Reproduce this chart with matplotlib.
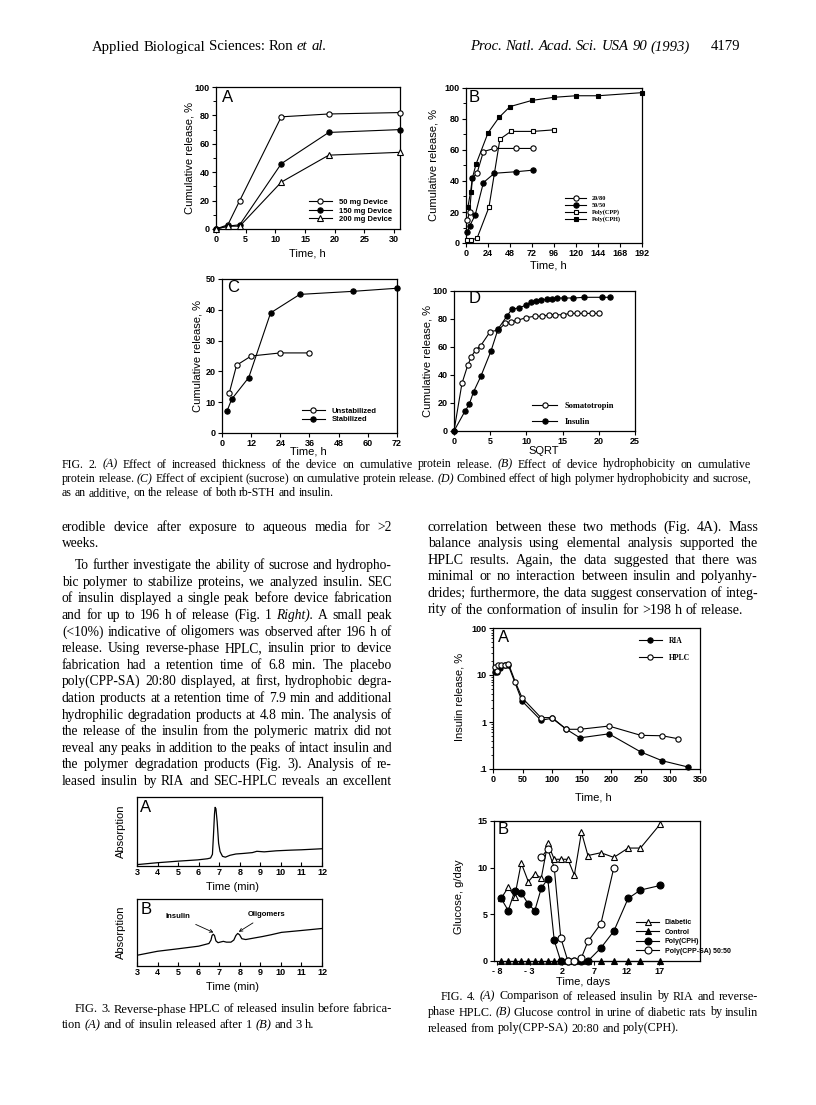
import matplotlib
matplotlib.use('Agg')
import matplotlib.pyplot as plt

W, H = 816, 1105
SANS = 'Liberation Sans'
SERIF = 'Liberation Serif'

# ---------------- Fig. 2A : device thickness
a_time = [0, 2, 4, 11, 19, 31]
a_50mg = [0, 3, 20, 79, 81, 82]
a_150mg = [0, 2, 3, 46, 68, 70]
a_200mg = [0, 2, 2, 33, 52, 54]

# ---------------- Fig. 2B : hydrophobicity
b_2080_t = [1.5, 4, 7, 12, 19, 31, 55, 73]
b_2080 = [15, 20, 42, 45, 59, 61, 61, 61]
b_5050_t = [1.5, 4, 10, 19, 31, 55, 73]
b_5050 = [7, 11, 18, 39, 45, 46, 47]
b_cpp_t = [1.5, 5, 12, 25, 37, 49, 73, 96]
b_cpp = [2, 2, 3, 23, 67, 72, 72, 73]
b_cph_t = [2, 5, 7, 11, 24, 36, 48, 72, 96, 120, 144, 192]
b_cph = [23, 33, 42, 51, 71, 81, 88, 92, 94, 95, 95, 97]

# ---------------- Fig. 2C : sucrose
c_unstab_t = [3, 6, 12, 24, 36]
c_unstab = [13, 22, 25, 26, 26]
c_stab_t = [2, 4, 11, 20, 32, 54, 72]
c_stab = [7, 11, 18, 39, 45, 46, 47]

# ---------------- Fig. 2D : SQRT
d_soma_t = [0, 1.1, 1.9, 2.4, 3.0, 3.7, 5.0, 6.1, 7.1, 7.9, 8.7, 10, 11.2, 12.2, 13.1,
            14, 15, 16, 17, 18, 19, 20]
d_soma = [0, 34, 47, 53, 58, 61, 71, 72, 77, 78, 79, 81, 82, 82, 83,
          83, 83, 84, 84, 84, 84, 84]
d_ins_t = [0, 1.5, 2.1, 2.7, 3.7, 5.1, 6.1, 7.3, 8, 9, 10, 10.6, 11.3, 12, 12.8,
           13.5, 14.2, 15.2, 16.5, 18, 20.5, 21.6]
d_ins = [0, 14, 19, 28, 39, 57, 73, 82, 87, 88, 90, 92, 93, 93.5, 94,
         94, 95, 95, 95, 95.5, 95.5, 95.5]

# ---------------- Fig. 3 : HPLC traces (absorption, % of frame height)
h_a_t = [3.0, 3.97, 4.99, 5.96, 6.43, 6.58, 6.67, 6.72, 6.77, 6.80, 6.84, 6.90, 6.97,
         7.04, 7.16, 7.3, 7.52, 7.81, 8.17, 8.61, 8.83, 9.19, 9.77, 10.5, 11, 12]
h_a = [2, 4.7, 7, 8.9, 10.5, 11.6, 17, 44.6, 75.6, 85, 83, 64, 33,
       21, 14, 12.8, 15.5, 17.4, 18.2, 19.4, 21.3, 20.5, 22, 23, 23.5, 25]
h_b_t = [3, 4, 5, 6, 6.5, 6.6, 6.65, 6.71, 6.77, 6.84, 6.94, 7.09, 7.2, 7.35, 7.57,
         7.71, 7.81, 7.9, 7.99, 8.1, 8.29, 8.65, 9.09, 9.52, 10.03, 11, 12]
h_b = [16, 22, 25.7, 29.6, 33.6, 38.7, 45.5, 47.4, 45.5, 37.5, 34.8, 36, 36.8, 35.6, 35.6,
       38.7, 45.5, 48.6, 46.6, 40.7, 39.5, 41.5, 43.9, 46.6, 50.2, 53, 56]

# ---------------- Fig. 4A : RIA vs HPLC
ria_t = [3, 6, 12, 20, 26, 49, 81, 100, 124, 147, 196, 250, 286, 330]
ria = [11.5, 11.8, 13.9, 16, 16, 2.8, 1.09, 1.2, 0.7, 0.46, 0.56, 0.23, 0.15, 0.11]
hplc_t = [3, 6, 9, 13, 20, 26, 38, 49, 81, 100, 124, 147, 196, 250, 286, 313]
hplc = [15, 12, 16, 16.4, 16, 17.5, 7.0, 3.3, 1.24, 1.24, 0.7, 0.7, 0.82, 0.52, 0.51, 0.44]

# ---------------- Fig. 4B : glucose
g_days = [-7.4, -6.3, -5.3, -4.3, -3.2, -2.2, -1.2, -0.2, 0.8, 1.8, 2.9, 3.9, 5.0, 6.0,
          8.0, 10.0, 12.2, 14.1, 17.2]
g_diabetic = [6.7, 7.9, 6.9, 10.5, 8.5, 9.3, 8.9, 12.6, 10.9, 10.9, 10.9, 9.2, 13.8, 11.3,
              11.6, 11.1, 12.1, 12.1, 14.7]
g_control = [0, 0, 0, 0, 0, 0, 0, 0, 0, 0, 0, 0, 0, 0, 0, 0, 0, 0, 0]
g_cph = [6.7, 5.4, 7.5, 7.3, 6.1, 5.4, 7.8, 8.8, 2.2, 0, 0, 0, 0, 0, 1.4, 3.2, 6.7, 7.6, 8.1]
g_sa_days = [-1.2, -0.2, 0.8, 1.8, 2.9, 3.9, 5.0, 6.0, 8.0, 10.0]
g_sa = [11.1, 12.0, 10.0, 2.5, 0, 0, 0.35, 2.1, 4.0, 10.0]

fig = plt.figure(figsize=(W / 100, H / 100), dpi=100)
renderer = fig.canvas.get_renderer()

TICK = 6.5
LAB = 8


def px_axes(x0, y0, x1, y1):
    ax = fig.add_axes([x0 / W, 1 - y1 / H, (x1 - x0) / W, (y1 - y0) / H])
    for s in ax.spines.values():
        s.set_linewidth(0.9)
    ax.tick_params(length=3, width=0.8, labelsize=TICK, pad=1.5)
    return ax


def ftext(x, y, s, **kw):
    kw.setdefault('family', SANS)
    return fig.text(x / W, 1 - y / H, s, **kw)


def style_ticks(ax):
    for lab in ax.get_xticklabels() + ax.get_yticklabels():
        lab.set_family(SANS)
        lab.set_fontweight('bold')


def line(ax, x, y, marker, filled, ms=3.8, label=None):
    ax.plot(x, y, color='black', lw=0.8, marker=marker, ms=ms, mew=0.8,
            mfc='black' if filled else 'white', mec='black', label=label,
            clip_on=False, zorder=3)


def legend(ax, x, y, size, family, spacing=0.1, hl=3.0):
    ax.legend(loc='upper left', bbox_to_anchor=(x / W, 1 - y / H),
              bbox_transform=fig.transFigure, frameon=False, borderpad=0,
              handlelength=hl, handletextpad=0.9, labelspacing=spacing,
              prop={'family': family, 'size': size, 'weight': 'bold'})


# ======== Fig. 2A
ax = px_axes(216, 87, 400, 229)
line(ax, a_time, a_50mg, 'o', False, label='50 mg Device')
line(ax, a_time, a_150mg, 'o', True, label='150 mg Device')
line(ax, a_time, a_200mg, '^', False, label='200 mg Device')
ax.set_xlim(0, 31)
ax.set_ylim(0, 100)
ax.set_xticks(range(0, 31, 5))
ax.set_yticks(range(0, 101, 20))
ax.set_yticks(range(10, 100, 20), minor=True)
ax.tick_params(which='minor', length=2, width=0.7)
style_ticks(ax)
legend(ax, 305, 195, 5.5, SANS, spacing=0.15)
ftext(228, 98, 'A', fontsize=12, va='center', ha='center')
ftext(189, 158, 'Cumulative release, %', fontsize=LAB, rotation=90, va='center', ha='center')
ftext(307, 253, 'Time, h', fontsize=LAB, va='center', ha='center')

# ======== Fig. 2B
ax = px_axes(466, 88, 642, 243)
line(ax, b_2080_t, b_2080, 'o', False, label='20/80')
line(ax, b_5050_t, b_5050, 'o', True, label='50/50')
line(ax, b_cpp_t, b_cpp, 's', False, ms=3.5, label='Poly(CPP)')
line(ax, b_cph_t, b_cph, 's', True, ms=3.5, label='Poly(CPH)')
ax.set_xlim(0, 192)
ax.set_ylim(0, 100)
ax.set_xticks(range(0, 193, 24))
ax.set_yticks(range(0, 101, 20))
ax.set_yticks(range(10, 100, 20), minor=True)
ax.tick_params(which='minor', length=2, width=0.7)
style_ticks(ax)
legend(ax, 562, 193, 4.5, SERIF, spacing=0.2, hl=3.4)
ftext(474, 97, 'B', fontsize=12, va='center', ha='center')
ftext(434, 165, 'Cumulative release, %', fontsize=LAB, rotation=90, va='center', ha='center')
ftext(548, 266, 'Time, h', fontsize=LAB, va='center', ha='center')

# ======== Fig. 2C
ax = px_axes(222, 279, 397, 433)
line(ax, c_unstab_t, c_unstab, 'o', False, label='Unstabilized')
line(ax, c_stab_t, c_stab, 'o', True, label='Stabilized')
ax.set_xlim(0, 72)
ax.set_ylim(0, 50)
ax.set_xticks(range(0, 73, 12))
ax.set_yticks(range(0, 51, 10))
style_ticks(ax)
legend(ax, 298, 404, 5.5, SANS, spacing=0.1)
ftext(233, 288, 'C', fontsize=12, va='center', ha='center')
ftext(197, 356, 'Cumulative release, %', fontsize=LAB, rotation=90, va='center', ha='center')
ftext(308, 452, 'Time, h', fontsize=LAB, va='center', ha='center')

# ======== Fig. 2D
ax = px_axes(454, 291, 635, 431)
line(ax, d_soma_t, d_soma, 'o', False, label='Somatotropin')
line(ax, d_ins_t, d_ins, 'o', True, label='Insulin')
ax.set_xlim(0, 25)
ax.set_ylim(0, 100)
ax.set_xticks(range(0, 26, 5))
ax.set_yticks(range(0, 101, 20))
style_ticks(ax)
legend(ax, 528, 398, 6, SERIF, spacing=0.9)
ftext(475, 299, 'D', fontsize=12, va='center', ha='center')
ftext(427, 361, 'Cumulative release, %', fontsize=LAB, rotation=90, va='center', ha='center')
ftext(544, 451, 'SQRT', fontsize=LAB, va='center', ha='center')

# ======== Fig. 3A / 3B
for top, bottom, t, y, letter in [(797, 866, h_a_t, h_a, 'A'), (899, 966, h_b_t, h_b, 'B')]:
    ax = px_axes(137, top, 322, bottom)
    ax.plot(t, y, color='black', lw=0.9)
    ax.set_xlim(3, 12)
    ax.set_ylim(0, 100)
    ax.set_xticks(range(3, 13))
    ax.set_yticks([])
    ax.tick_params(axis='x', direction='in', length=3)
    style_ticks(ax)
    ftext(146, top + 10, letter, fontsize=12, va='center', ha='center')
    ftext(121, (top + bottom) / 2, 'Absorption', fontsize=LAB, rotation=90, va='center', ha='center')
    ftext(232, bottom + 21, 'Time (min)', fontsize=LAB, va='center', ha='center')
    if letter == 'B':
        ax.annotate('Insulin', xy=(6.72, 50), xytext=(5.0, 74), fontsize=5.5,
                    family=SANS, fontweight='bold', ha='center', va='center',
                    arrowprops=dict(arrowstyle='->', lw=0.6, color='black', shrinkA=3, shrinkB=0))
        ax.annotate('Oligomers', xy=(7.95, 51), xytext=(9.3, 77), fontsize=5.5,
                    family=SANS, fontweight='bold', ha='center', va='center',
                    arrowprops=dict(arrowstyle='->', lw=0.6, color='black', shrinkA=3, shrinkB=0))

# ======== Fig. 4A
ax = px_axes(493, 628, 700, 769)
line(ax, ria_t, ria, 'o', True, label='RIA')
line(ax, hplc_t, hplc, 'o', False, label='HPLC')
ax.set_yscale('log')
ax.set_xlim(0, 350)
ax.set_ylim(0.1, 100)
ax.set_xticks(range(0, 351, 50))
ax.set_yticks([0.1, 1, 10, 100])
ax.set_yticklabels(['.1', '1', '10', '100'])
ax.tick_params(axis='y', which='minor', length=1.8, width=0.6)
style_ticks(ax)
legend(ax, 635, 633, 5.5, SERIF, spacing=1.2)
ftext(504, 638, 'A', fontsize=12, va='center', ha='center')
ftext(459, 697, 'Insulin release, %', fontsize=LAB, rotation=90, va='center', ha='center')
ftext(593, 797, 'Time, h', fontsize=LAB, va='center', ha='center')

# ======== Fig. 4B
ax = px_axes(494, 821, 700, 961)
line(ax, g_days, g_diabetic, '^', False, ms=3.8, label='Diabetic')
line(ax, g_days, g_control, '^', True, ms=3.8, label='Control')
line(ax, g_days, g_cph, 'o', True, ms=5, label='Poly(CPH)')
line(ax, g_sa_days, g_sa, 'o', False, ms=5, label='Poly(CPP-SA) 50:50')
ax.set_xlim(-8.5, 23.3)
ax.set_ylim(0, 15)
ax.set_xticks([-8, -3, 2, 7, 12, 17])
ax.set_xticklabels(['- 8', '- 3', '2', '7', '12', '17'])
ax.set_yticks([0, 5, 10, 15])
style_ticks(ax)
legend(ax, 633, 916, 5, SANS, spacing=0.35, hl=3.2)
ftext(503, 830, 'B', fontsize=12, va='center', ha='center')
ftext(459, 897, 'Glucose, g/day', fontsize=LAB, rotation=90, va='center', ha='center')
ftext(583, 982, 'Time, days', fontsize=LAB, va='center', ha='center')


# ======== page text (justified columns)
def word_width(w, size, style):
    t = fig.text(0, 0, w, fontsize=size, family=SERIF, style=style)
    wd = t.get_window_extent(renderer).width
    t.remove()
    return wd


def split_words(txt):
    words = txt.split()
    styles = ['italic' if w.startswith('~') else 'normal' for w in words]
    return [w.lstrip('~') for w in words], styles


def fit_size(rows, space=0.24, base=10.0):
    # largest font size at which every justified row still fits with a normal space
    ratios = []
    for x0, x1, txt, just in rows:
        if not just:
            continue
        words, styles = split_words(txt)
        natural = sum(word_width(w, base, s) for w, s in zip(words, styles))
        natural += (len(words) - 1) * space * base * 100 / 72
        ratios.append((x1 - x0) / natural)
    return base * min(ratios)


def text_line(x0, x1, y, txt, size, justify=True):
    words, styles = split_words(txt)
    widths = [word_width(w, size, s) for w, s in zip(words, styles)]
    gap = 0.25 * size * 100 / 72
    if justify and len(words) > 1:
        gap = (x1 - x0 - sum(widths)) / (len(words) - 1)
    x = x0
    for w, s, wd in zip(words, styles, widths):
        fig.text(x / W, 1 - (y + 3.5) / H, w, fontsize=size, family=SERIF, style=s,
                 va='baseline', ha='left')
        x += wd + gap


def block(rows, ys):
    size = fit_size(rows)
    for (x0, x1, txt, just), y in zip(rows, ys):
        text_line(x0, x1, y, txt, size, justify=just)


text_line(92, 400, 47, 'Applied Biological Sciences: Ron ~et ~al.', 10.6, justify=False)
text_line(470, 700, 47, '~Proc. ~Natl. ~Acad. ~Sci. ~USA ~90 ~(1993)', 10.6, justify=False)
text_line(711, 760, 47, '4179', 10.6, justify=False)

cap2 = [
    'FIG. 2. ~(A) Effect of increased thickness of the device on cumulative protein release. ~(B) Effect of device hydrophobicity on cumulative',
    'protein release. ~(C) Effect of excipient (sucrose) on cumulative protein release. ~(D) Combined effect of high polymer hydrophobicity and sucrose,',
    'as an additive, on the release of both rb-STH and insulin.',
]
block([(62, 751, t, i < 2) for i, t in enumerate(cap2)], [464, 478.5, 493])

left_col = [
    'erodible device after exposure to aqueous media for >2',
    'weeks.',
    'To further investigate the ability of sucrose and hydropho-',
    'bic polymer to stabilize proteins, we analyzed insulin. SEC',
    'of insulin displayed a single peak before device fabrication',
    'and for up to 196 h of release (Fig. 1 ~Right). A small peak',
    '(<10%) indicative of oligomers was observed after 196 h of',
    'release. Using reverse-phase HPLC, insulin prior to device',
    'fabrication had a retention time of 6.8 min. The placebo',
    'poly(CPP-SA) 20:80 displayed, at first, hydrophobic degra-',
    'dation products at a retention time of 7.9 min and additional',
    'hydrophilic degradation products at 4.8 min. The analysis of',
    'the release of the insulin from the polymeric matrix did not',
    'reveal any peaks in addition to the peaks of intact insulin and',
    'the polymer degradation products (Fig. 3). Analysis of re-',
    'leased insulin by RIA and SEC-HPLC reveals an excellent',
]
rows, ys, y = [], [], 527
for i, txt in enumerate(left_col):
    rows.append((75 if i == 2 else 62, 392, txt, i != 1))
    ys.append(y)
    y += 22 if i == 1 else 16.6
block(rows, ys)

right_col = [
    'correlation between these two methods (Fig. 4A). Mass',
    'balance analysis using elemental analysis supported the',
    'HPLC results. Again, the data suggested that there was',
    'minimal or no interaction between insulin and polyanhy-',
    'drides; furthermore, the data suggest conservation of integ-',
    'rity of the conformation of insulin for >198 h of release.',
]
block([(428, 758, t, i < 5) for i, t in enumerate(right_col)],
      [527 + i * 16.6 for i in range(len(right_col))])

cap3 = [
    'FIG. 3.   Reverse-phase HPLC of released insulin before fabrica-',
    'tion ~(A) and of insulin released after 1 ~(B) and 3 h.',
]
block([(75, 392, cap3[0], True), (62, 392, cap3[1], False)], [1009, 1025])

cap4 = [
    'FIG. 4.   ~(A) Comparison of released insulin by RIA and reverse-',
    'phase HPLC. ~(B) Glucose control in urine of diabetic rats by insulin',
    'released from poly(CPP-SA) 20:80 and poly(CPH).',
]
block([(441, 758, cap4[0], True), (428, 758, cap4[1], True), (428, 758, cap4[2], False)],
      [996, 1012, 1028])

fig.savefig('out.png', dpi=100)
